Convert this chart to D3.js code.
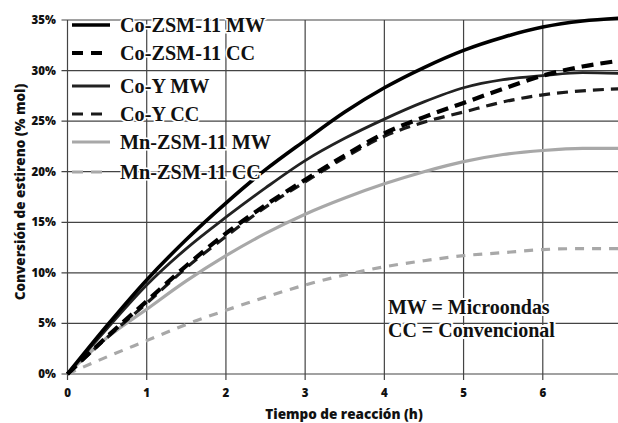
<!DOCTYPE html>
<html>
<head>
<meta charset="utf-8">
<script src="https://cdn.jsdelivr.net/npm/d3@7"></script>
<style>
  html, body { margin: 0; padding: 0; background: #fff; }
  svg { display: block; }
</style>
</head>
<body>
<svg id="chart" width="618" height="423"></svg>
<script>
// ---- data ----
const hours = [0, 0.5, 1, 1.5, 2, 2.5, 3, 3.5, 4, 4.5, 5, 5.5, 6, 6.5, 7];
const coZsmMW = [0, 4.8, 9.3, 13.3, 16.9, 20.2, 23.1, 25.9, 28.3, 30.3, 32.0, 33.3, 34.3, 34.9, 35.2];
const coZsmCC = [0, 3.7, 7.2, 10.7, 13.9, 16.7, 19.2, 21.6, 23.8, 25.4, 26.8, 28.2, 29.5, 30.4, 31.0];
const coYMW   = [0, 4.5, 8.8, 12.4, 15.5, 18.4, 21.1, 23.3, 25.2, 26.9, 28.3, 29.1, 29.5, 29.8, 29.7];
const coYCC   = [0, 3.6, 7.0, 10.5, 13.6, 16.5, 19.0, 21.4, 23.5, 24.9, 25.9, 26.9, 27.6, 28.0, 28.2];
const mnZsmMW = [0, 3.6, 6.4, 9.2, 11.7, 13.9, 15.8, 17.4, 18.8, 20.0, 21.0, 21.7, 22.1, 22.3, 22.3];
const mnZsmCC = [0, 1.7, 3.3, 4.9, 6.3, 7.6, 8.8, 9.8, 10.6, 11.2, 11.7, 12.0, 12.3, 12.4, 12.4];

const seriesNames = ["Co-ZSM-11 MW", "Co-ZSM-11 CC", "Co-Y MW", "Co-Y CC", "Mn-ZSM-11 MW", "Mn-ZSM-11 CC"];
const seriesValues = [coZsmMW, coZsmCC, coYMW, coYCC, mnZsmMW, mnZsmCC];
const xTicks = [0, 1, 2, 3, 4, 5, 6, 7];
const yTicks = [0, 5, 10, 15, 20, 25, 30, 35];
const xTitle = "Tiempo de reacción (h)";
const yTitle = "Conversión de estireno (% mol)";
const noteLines = ["MW = Microondas", "CC = Convencional"];

// ---- styles (per series) ----
const styles = [
  { color: "#000", width: 3.6, dash: null },
  { color: "#000", width: 4.2, dash: "12,7" },
  { color: "#222", width: 2.8, dash: null },
  { color: "#1a1a1a", width: 3.2, dash: "11,7" },
  { color: "#a8a8a8", width: 3.2, dash: null },
  { color: "#a8a8a8", width: 3.2, dash: "9,8" }
];

const svg = d3.select("#chart");
const W = 618, H = 423;

const x = d3.scaleLinear().domain([0, 7]).range([67.5, 622]);
const y = d3.scaleLinear().domain([0, 35]).range([374, 20]);

const gridColor = "#444";

// grid
const grid = svg.append("g");
grid.selectAll("line.h").data(yTicks).join("line")
  .attr("x1", x(0) - 6).attr("x2", W)
  .attr("y1", d => y(d)).attr("y2", d => y(d))
  .attr("stroke", gridColor).attr("stroke-width", 1.2);
grid.selectAll("line.v").data(xTicks).join("line")
  .attr("x1", d => x(d)).attr("x2", d => x(d))
  .attr("y1", y(35)).attr("y2", y(0) + 6)
  .attr("stroke", gridColor).attr("stroke-width", 1.2);

// tick labels
svg.append("g").selectAll("text").data(yTicks).join("text")
  .attr("x", 56).attr("y", d => y(d) + 4)
  .attr("text-anchor", "end")
  .attr("font-family", "'Open Sans', sans-serif").attr("font-weight", 800)
  .attr("font-size", 11.5).attr("fill", "#111")
  .text(d => d + "%");
svg.append("g").selectAll("text").data(xTicks.filter(d => x(d) < W)).join("text")
  .attr("x", d => x(d)).attr("y", 397)
  .attr("text-anchor", "middle")
  .attr("font-family", "'Open Sans', sans-serif").attr("font-weight", 800)
  .attr("font-size", 11.5).attr("fill", "#111")
  .text(d => d);

// axis titles
svg.append("text")
  .attr("x", 344).attr("y", 419)
  .attr("text-anchor", "middle")
  .attr("font-family", "'Open Sans', sans-serif").attr("font-weight", 800)
  .attr("font-size", 13.5).attr("fill", "#111")
  .text(xTitle);
svg.append("text")
  .attr("transform", "translate(25,192) rotate(-90)")
  .attr("text-anchor", "middle")
  .attr("font-family", "'Open Sans', sans-serif").attr("font-weight", 800)
  .attr("font-size", 13.5).attr("fill", "#111")
  .text(yTitle);

// lines
const line = d3.line()
  .x((d, i) => x(hours[i]))
  .y(d => y(d))
  .curve(d3.curveMonotoneX);

const order = [5, 4, 3, 2, 1, 0];
svg.append("g").selectAll("path").data(order).join("path")
  .attr("d", k => line(seriesValues[k]))
  .attr("fill", "none")
  .attr("stroke", k => styles[k].color)
  .attr("stroke-width", k => styles[k].width)
  .attr("stroke-dasharray", k => styles[k].dash)
  .attr("stroke-linejoin", "round");

// legend
const legendY = [25, 53, 86, 114, 142, 172];
const leg = svg.append("g");
seriesNames.forEach((name, k) => {
  const yy = legendY[k];
  leg.append("line")
    .attr("x1", 72).attr("x2", 110).attr("y1", yy).attr("y2", yy)
    .attr("stroke", styles[k].color)
    .attr("stroke-width", styles[k].width)
    .attr("stroke-dasharray", styles[k].dash ? "11,8" : null);
  leg.append("text")
    .attr("transform", `translate(120,${yy + 7}) scale(1.01,1.08)`)
    .attr("font-family", "'Liberation Serif', 'Times New Roman', serif")
    .attr("font-weight", 700).attr("font-size", 20).attr("fill", "#111")
    .attr("stroke", "#fff").attr("stroke-width", 3).attr("paint-order", "stroke")
    .text(name);
});

// note
svg.append("g").selectAll("text").data(noteLines).join("text")
  .attr("transform", (d, i) => `translate(388,${314 + i * 23}) scale(1,1.06)`)
  .attr("font-family", "'Liberation Serif', 'Times New Roman', serif")
  .attr("font-weight", 700).attr("font-size", 20).attr("fill", "#111")
  .attr("stroke", "#fff").attr("stroke-width", 4).attr("paint-order", "stroke")
  .text(d => d);
</script>
</body>
</html>
